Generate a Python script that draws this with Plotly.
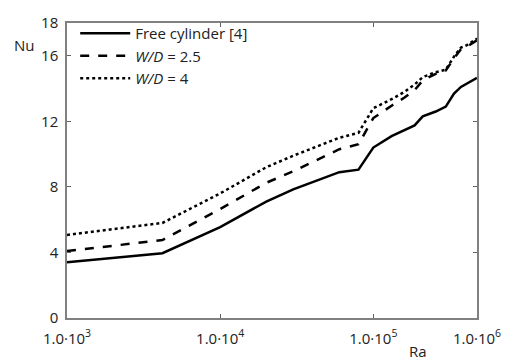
import numpy as np
import plotly.graph_objects as go

# Rayleigh numbers at which Nu was evaluated
ra = [1e3, 4.2e3, 1e4, 2e4, 3e4, 6e4, 8e4, 1e5, 1.5e5, 2e5, 2.5e5, 3e5,
      4e5, 5e5, 6e5, 7e5, 8e5, 9e5, 1e6]

# Average Nusselt number for each configuration
nu_free = [3.4, 3.95, 5.55, 7.1, 7.85, 8.9, 9.05, 10.4, 11.1, 11.45, 11.75,
           12.3, 12.6, 12.9, 13.7, 14.1, 14.3, 14.45, 14.65]
nu_wd25 = [4.08, 4.76, 6.65, 8.25, 8.95, 10.3, 10.6, 12.2, 12.95, 13.45,
           13.9, 14.5, 14.9, 15.1, 15.85, 16.4, 16.55, 16.75, 16.95]
nu_wd4 = [5.07, 5.8, 7.6, 9.2, 9.9, 11.0, 11.3, 12.8, 13.35, 13.8, 14.25,
          14.7, 15.0, 15.15, 15.95, 16.5, 16.65, 16.85, 17.05]

series_names = ["Free cylinder [4]", "<i>W/D</i> = 2.5", "<i>W/D</i> = 4"]
series_dash = ["solid", "dash", "dot"]

x_tick_ra = [1e3, 1e4, 1e5, 1e6]
x_tick_text = ["1.0\u00b710<sup>3</sup>", "1.0\u00b710<sup>4</sup>",
               "1.0\u00b710<sup>5</sup>", "1.0\u00b710<sup>6</sup>"]
y_ticks = [0, 4, 8, 12, 16, 18]

# Logarithmic Ra axis whose last decade (1e5..1e6) is drawn compressed
LAST_DECADE_SCALE = 0.677


def ra_axis(values):
    lg = np.log10(np.asarray(values, dtype=float))
    return np.where(lg <= 5, lg, 5 + (lg - 5) * LAST_DECADE_SCALE)


fig = go.Figure()
for name, vals, dash in zip(series_names, [nu_free, nu_wd25, nu_wd4], series_dash):
    fig.add_trace(go.Scatter(
        x=ra_axis(ra), y=vals, mode="lines", name=name,
        line=dict(color="black", width=2.5, dash=dash),
    ))

font = dict(family="Open Sans", size=15, color="#222")

axis_common = dict(
    showline=True, linecolor="#808080", linewidth=1.5, mirror="allticks",
    ticks="inside", ticklen=4, tickwidth=1.2, tickcolor="#606060",
    showgrid=False, zeroline=False, tickfont=font,
)

xr = ra_axis(x_tick_ra)
fig.update_xaxes(range=[xr[0], xr[-1]], tickmode="array", tickvals=xr,
                 ticktext=x_tick_text, ticklabelstandoff=6, **axis_common)
fig.update_yaxes(range=[0, 18], tickmode="array", tickvals=y_ticks,
                 ticktext=[str(v) for v in y_ticks], ticklabelstandoff=4,
                 **axis_common)

fig.add_annotation(text="Nu", xref="paper", yref="paper", x=-0.072, y=0.925,
                   xanchor="right", yanchor="middle", showarrow=False, font=font)
fig.add_annotation(text="Ra", xref="paper", yref="paper", x=0.855, y=-0.072,
                   xanchor="center", yanchor="top", showarrow=False, font=font)

fig.update_layout(
    width=513, height=360,
    margin=dict(l=67, r=27, t=17, b=41),
    plot_bgcolor="white", paper_bgcolor="white",
    showlegend=True,
    legend=dict(x=0.02, y=1.02, xanchor="left", yanchor="top",
                bgcolor="rgba(0,0,0,0)", tracegroupgap=0, itemwidth=50,
                font=font),
)

fig.write_html("out.html")
